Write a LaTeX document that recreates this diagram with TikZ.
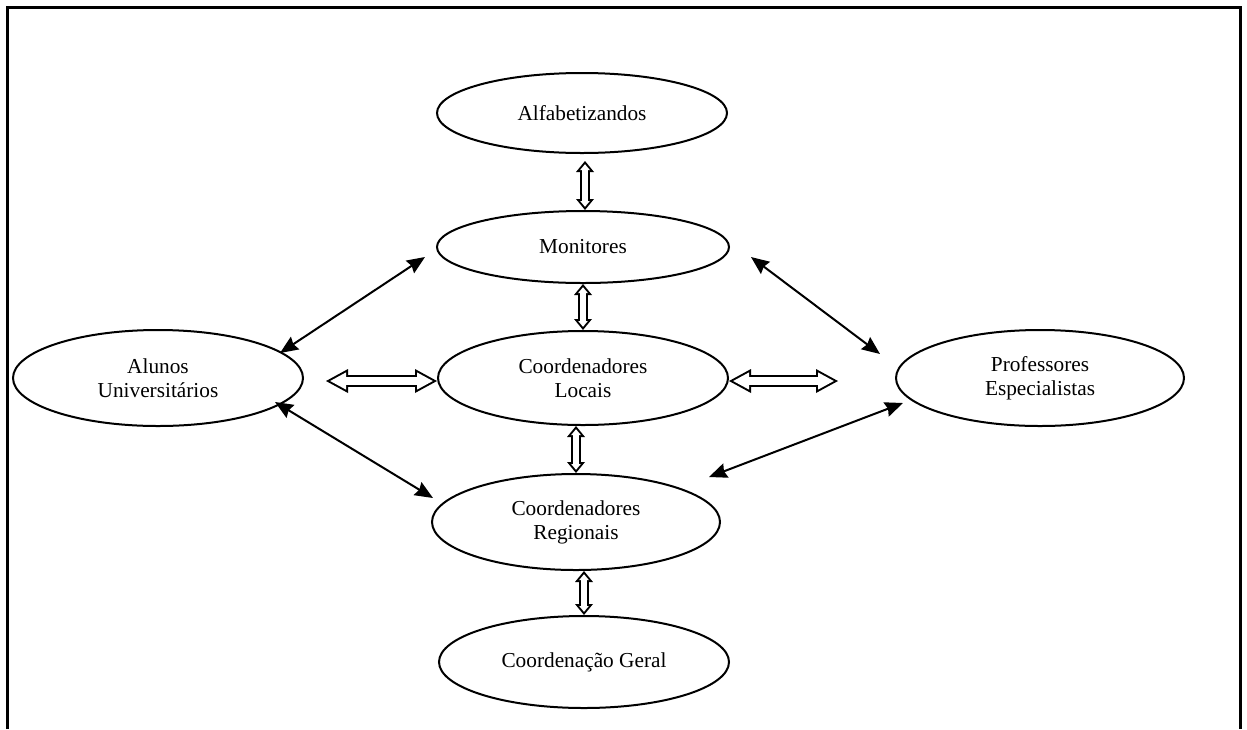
\documentclass[tikz,border=0pt]{standalone}
\usepackage{fontspec}
\setmainfont{Liberation Serif}
\usetikzlibrary{shapes.geometric, arrows.meta, calc}

\begin{document}
\begin{tikzpicture}[x=1pt, y=-1pt,
    every node/.style={ellipse, draw, line width=2pt, inner sep=0pt, align=center, font=\fontsize{21.3}{23.8}\selectfont},
    link/.style={line width=2pt, {Stealth[length=18pt,width=15pt,inset=2pt]}-{Stealth[length=18pt,width=15pt,inset=2pt]}},
    hollowv/.style={line width=10pt, {Triangle[length=11pt,width=18pt,line width=0pt]}-{Triangle[length=11pt,width=18pt,line width=0pt]},
        postaction={draw=white, line width=6pt, shorten <=3.2pt, shorten >=3.2pt,
        {Triangle[length=5.8pt,width=9.6pt,line width=0pt]}-{Triangle[length=5.8pt,width=9.6pt,line width=0pt]}}},
    hollowh/.style={line width=12pt, {Triangle[length=22pt,width=24pt,line width=0pt]}-{Triangle[length=22pt,width=24pt,line width=0pt]},
        postaction={draw=white, line width=8pt, shorten <=4.2pt, shorten >=4.2pt,
        {Triangle[length=15.8pt,width=17.2pt,line width=0pt]}-{Triangle[length=15.8pt,width=17.2pt,line width=0pt]}}}]
    \useasboundingbox (0,0) rectangle (1247,729);

    % open frame
    \draw[line width=3pt] (7,729) -- (7,7) -- (1240,7) -- (1240,729);

    \node[minimum width=290pt, minimum height=80pt] (alfab) at (582,113) {Alfabetizandos};
    \node[minimum width=292pt, minimum height=72pt] (monit) at (583,247) {Monitores};
    \node[minimum width=290pt, minimum height=94pt] (locais) at (583,378) {Coordenadores\\Locais};
    \node[minimum width=290pt, minimum height=96pt] (alunos) at (158,378) {Alunos\\Universitários};
    \node[minimum width=288pt, minimum height=96pt] (prof) at (1040,378) {Professores\\Especialistas};
    \node[minimum width=288pt, minimum height=96pt] (regio) at (576,522) {Coordenadores\\Regionais};
    \node[minimum width=290pt, minimum height=92pt] (geral) at (584,662) {Coordenação Geral};

    % free ends
    \coordinate (t1) at (585,161);
    \coordinate (hl) at (326,381);
    \coordinate (hr) at (838,381);
    \coordinate (mL) at (425,257);
    \coordinate (aU) at (280,353);
    \coordinate (mR) at (751,257);
    \coordinate (pU) at (880,354);
    \coordinate (aD) at (275,402);
    \coordinate (rL) at (433,498);
    \coordinate (pD) at (903,403);
    \coordinate (rR) at (709,477);

    \draw[hollowv] (t1) -- (t1 |- monit.north);
    \draw[hollowv] (monit.south) -- (locais.north);
    \draw[hollowv] (locais.south -| regio.north) -- (regio.north);
    \draw[hollowv] (regio.south -| geral.north) -- (geral.north);

    \draw[hollowh] (hl) -- (hl -| locais.west);
    \draw[hollowh] (hr -| locais.east) -- (hr);

    \draw[link] (mL) -- (aU);
    \draw[link] (mR) -- (pU);
    \draw[link] (aD) -- (rL);
    \draw[link] (pD) -- (rR);
\end{tikzpicture}
\end{document}
